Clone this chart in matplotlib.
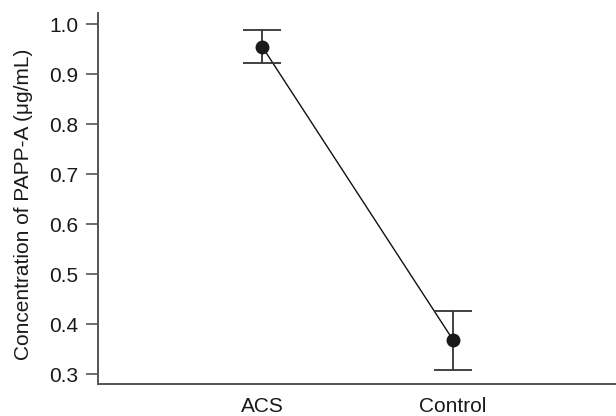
import matplotlib
matplotlib.use("Agg")
import matplotlib.pyplot as plt

categories = ["ACS", "Control"]
means = [0.955, 0.368]
errors = [0.033, 0.059]
yticks = [0.3, 0.4, 0.5, 0.6, 0.7, 0.8, 0.9, 1.0]

plt.rcParams['font.family'] = ['Liberation Sans', 'DejaVu Sans']

fig = plt.figure(figsize=(6.16, 4.16), dpi=100)
ax = fig.add_axes([98/616, 32/416, 1 - 98/616, (403 - 32)/416])

x = list(range(len(categories)))
ax.plot(x, means, color="#111111", lw=1.0, zorder=2)
ax.errorbar(x, means, yerr=errors, fmt="none", ecolor="#333333",
            elinewidth=1.3, capsize=14, capthick=1.3, zorder=3)
ax.plot(x, means, "o", color="#1a1a1a", ms=9, zorder=4)

ax.set_xlim(-0.859, 1.853)
ax.set_ylim(0.28, 1.022)
ax.set_xticks(x)
ax.set_xticklabels(categories, fontsize=15)
ax.set_yticks(yticks)
ax.set_yticklabels([f"{v:.1f}" for v in yticks], fontsize=15)
ax.tick_params(axis="x", length=0, pad=9, colors="#1a1a1a")
ax.tick_params(axis="y", length=8.5, width=1.2, pad=5.5, color="#555555", labelcolor="#1a1a1a")
ax.set_ylabel("Concentration of PAPP-A (μg/mL)", fontsize=15, color="#1a1a1a")
ax.yaxis.set_label_coords(-0.1255, 0.485)

for s in ["top", "right"]:
    ax.spines[s].set_visible(False)
for s in ["left", "bottom"]:
    ax.spines[s].set_color("#555555")
    ax.spines[s].set_linewidth(1.4)

fig.savefig("out.png", dpi=100)
